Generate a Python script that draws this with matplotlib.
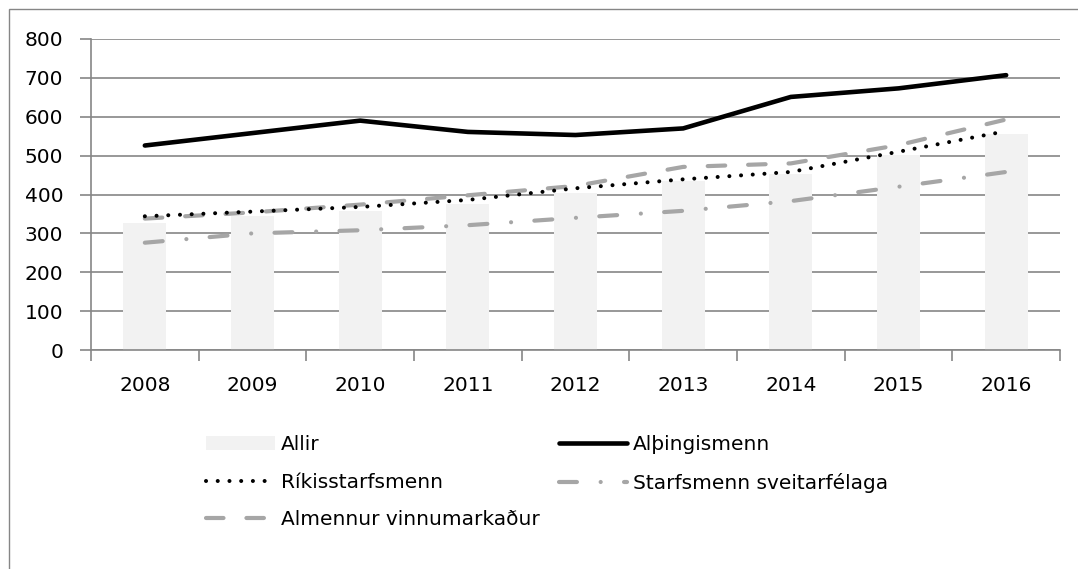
import matplotlib
matplotlib.use("Agg")
import matplotlib.pyplot as plt
from matplotlib.patches import Rectangle
import numpy as np

years = ["2008", "2009", "2010", "2011", "2012", "2013", "2014", "2015", "2016"]
allir = [326, 344, 358, 375, 404, 434, 454, 501, 555]
althingismenn = [526, 558, 590, 561, 553, 570, 651, 673, 707]
rikisstarfsmenn = [344, 356, 368, 386, 416, 439, 458, 510, 563]
sveitarfelaga = [276, 300, 308, 321, 340, 358, 383, 420, 458]
almennur = [338, 354, 374, 398, 422, 471, 480, 527, 593]
yticks = [0, 100, 200, 300, 400, 500, 600, 700, 800]

plt.rcParams['font.family'] = ['DejaVu Sans']
FS = 14.5
W, H = 1078, 569
fig = plt.figure(figsize=(W / 100, H / 100), dpi=100)

# outer chart border (left & top visible)
fig.patches.append(Rectangle((9 / W, -0.1), 1.2, (H - 9) / H + 0.1, transform=fig.transFigure,
                             fill=False, edgecolor='#868686', linewidth=1.0))

ax = fig.add_axes([91 / W, (H - 350) / H, (1060 - 91) / W, (350 - 39) / H])
x = np.arange(len(years))
grey = '#868686'
lg = '#a6a6a6'

ax.bar(x, allir, width=0.4, color='#f2f2f2', label='Allir', zorder=2)
ax.plot(x, althingismenn, color='black', lw=3.3, solid_capstyle='round', label='Alþingismenn', zorder=5)
ax.plot(x, rikisstarfsmenn, color='black', lw=2.9, dash_capstyle='round',
        linestyle=(0, (0.01, 2.9)), label='Ríkisstarfsmenn', zorder=4)
ax.plot(x, sveitarfelaga, color=lg, lw=3.0, dash_capstyle='round',
        linestyle=(0, (4.3, 5.7, 0.01, 5.6)), label='Starfsmenn sveitarfélaga', zorder=3)
ax.plot(x, almennur, color=lg, lw=3.0, dash_capstyle='round',
        linestyle=(0, (4.2, 5.5)), label='Almennur vinnumarkaður', zorder=3)

ax.set_xlim(-0.5, len(years) - 0.5)
ax.set_ylim(0, 800)
ax.set_yticks(yticks)
ax.set_yticklabels([str(v) for v in yticks])
ax.set_xticks(np.arange(-0.5, len(years), 1.0), minor=False)
ax.set_xticklabels([])
ax.set_xticks(x, minor=True)
ax.set_xticklabels(years, minor=True)
ax.tick_params(axis='x', which='minor', length=0, pad=19, labelsize=FS)
ax.tick_params(axis='x', which='major', length=8, color=grey, width=1.2)
ax.tick_params(axis='y', length=8, color=grey, width=1.2, pad=12, labelsize=FS)
ax.yaxis.grid(True, color=grey, lw=1.2, zorder=0)
ax.set_axisbelow(True)
for s in ['top', 'right']:
    ax.spines[s].set_visible(False)
for s in ['left', 'bottom']:
    ax.spines[s].set_color(grey)
    ax.spines[s].set_linewidth(1.2)

handles, labels = ax.get_legend_handles_labels()
order = ['Allir', 'Ríkisstarfsmenn', 'Almennur vinnumarkaður', 'Alþingismenn', 'Starfsmenn sveitarfélaga']
hd = dict(zip(labels, handles))
leg = fig.legend([hd[o] for o in order], order, ncol=2, loc='upper left',
                 bbox_to_anchor=(188 / W, (H - 417) / H), frameon=False, fontsize=FS,
                 handlelength=3.4, handletextpad=0.3, columnspacing=0.95, labelspacing=0.92,
                 borderpad=0.4)

fig.savefig('out.png', dpi=100)
